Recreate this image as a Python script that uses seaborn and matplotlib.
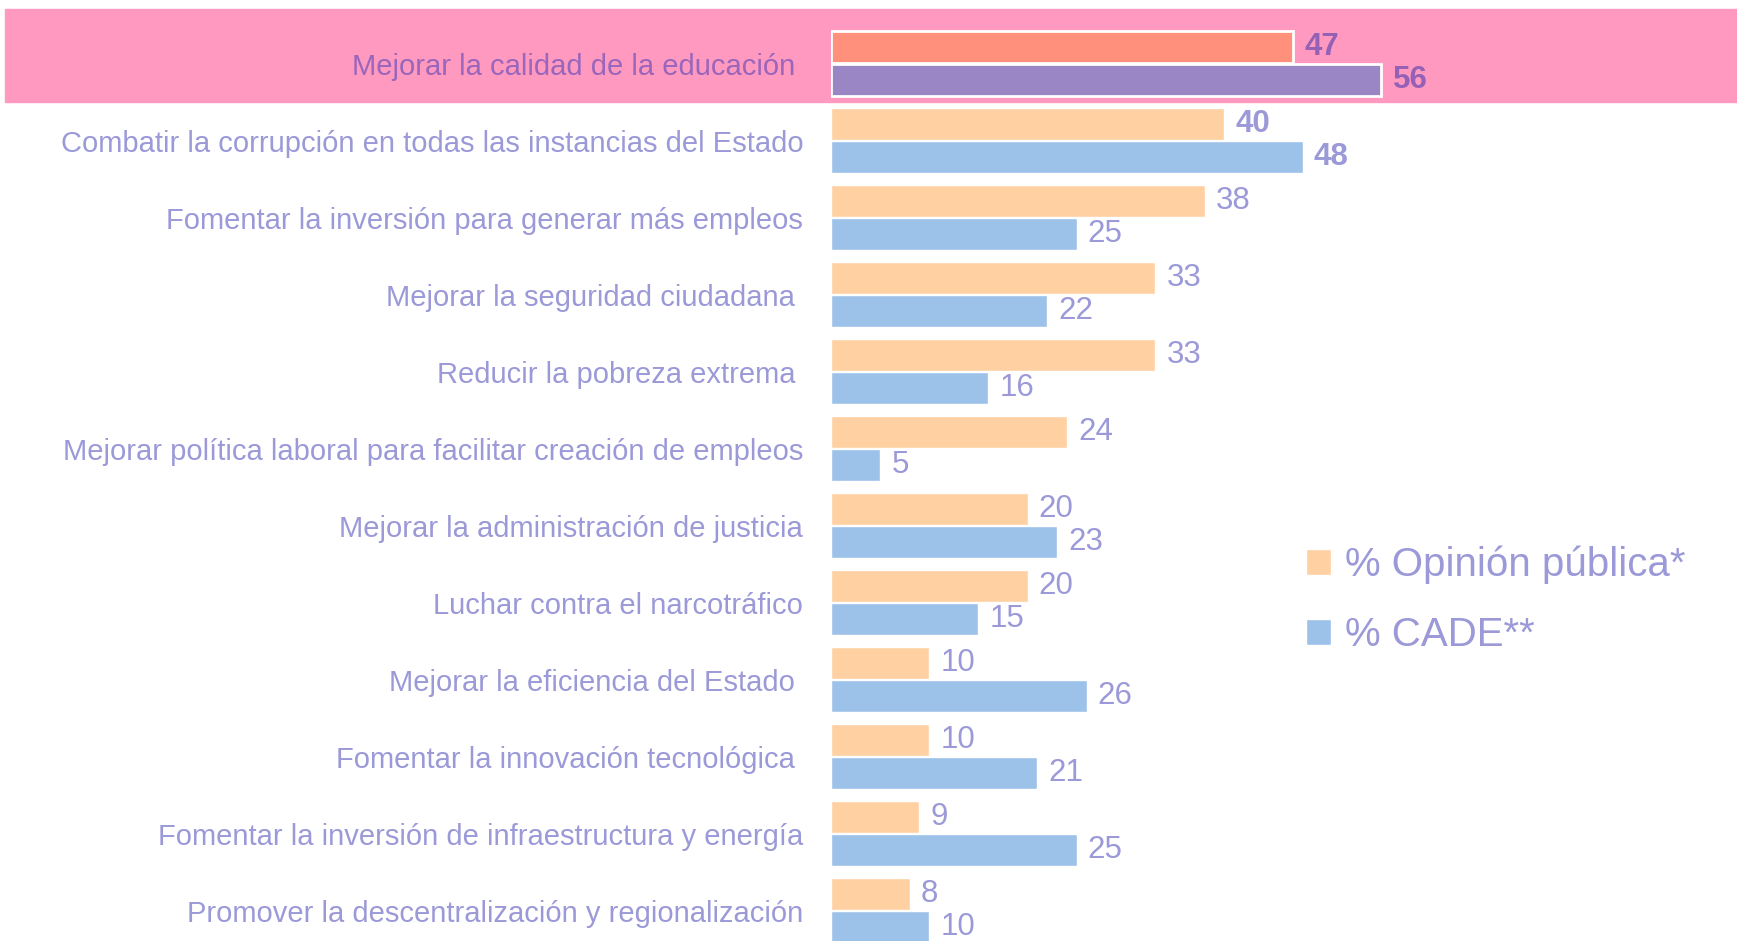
import matplotlib
matplotlib.use("Agg")
import matplotlib.pyplot as plt
import seaborn as sns
import pandas as pd
from matplotlib.patches import Patch

# Data
objetivos = [
    "Mejorar la calidad de la educación ",
    "Combatir la corrupción en todas las instancias del Estado",
    "Fomentar la inversión para generar más empleos",
    "Mejorar la seguridad ciudadana ",
    "Reducir la pobreza extrema ",
    "Mejorar política laboral para facilitar creación de empleos",
    "Mejorar la administración de justicia",
    "Luchar contra el narcotráfico",
    "Mejorar la eficiencia del Estado ",
    "Fomentar la innovación tecnológica ",
    "Fomentar la inversión de infraestructura y energía",
    "Promover la descentralización y regionalización",
]
opinion_publica = [47, 40, 38, 33, 33, 24, 20, 20, 10, 10, 9, 8]
cade = [56, 48, 25, 22, 16, 5, 23, 15, 26, 21, 25, 10]
series = ["% Opinión pública*", "% CADE**"]

df = pd.DataFrame({
    "objetivo": objetivos * 2,
    "valor": opinion_publica + cade,
    "serie": [series[0]] * len(objetivos) + [series[1]] * len(objetivos),
})

naranja = "#FFD0A1"
azul = "#9DC2EA"
texto = "#9B99D8"

sns.set_style("white")
plt.rcParams["font.family"] = ["Liberation Sans", "DejaVu Sans"]

fig = plt.figure(figsize=(17.37, 9.41), dpi=100)
ax = fig.add_axes([831 / 1737, 0, 1 - 831 / 1737, 1])

sns.barplot(data=df, x="valor", y="objetivo", hue="serie", orient="h",
            palette=[naranja, azul], saturation=1, width=0.86, gap=0.05,
            edgecolor="white", linewidth=1, legend=False, ax=ax)

# highlight band for the first row
ax.axhspan(-0.708, 0.5, xmin=(5 - 831) / 906, xmax=1, color="#FF99C0",
           clip_on=False, zorder=0)

# highlighted bars
top_o = ax.containers[0][0]
top_c = ax.containers[1][0]
top_o.set_facecolor("#FF917C")
top_c.set_facecolor("#9A85C5")
for b in (top_o, top_c):
    b.set_edgecolor("white")
    b.set_linewidth(2)
    b.set_zorder(3)

for i, cont in enumerate(ax.containers):
    labels = ax.bar_label(cont, padding=8, fontsize=22.5, color=texto)
    labels[0].set_color("#9461B6")
    labels[0].set_fontweight("bold")
    labels[1].set_fontweight("bold")

ax.set_xlim(0, 906 / 9.83)
ax.set_ylim(11.396, -0.825)
ax.set_xlabel("")
ax.set_ylabel("")
ax.set_xticks([])
ax.tick_params(axis="y", length=0, pad=20, labelsize=21, labelcolor=texto)
ax.get_yticklabels()[0].set_color("#9966BB")
for s in ax.spines.values():
    s.set_visible(False)
ax.patch.set_alpha(0)

handles = [Patch(facecolor=naranja), Patch(facecolor=azul)]
fig.legend(handles, series, loc="center left",
           bbox_to_anchor=(1306 / 1737, 1 - 600 / 941),
           frameon=False, fontsize=29, labelcolor=texto,
           handlelength=0.62, handleheight=0.62, handletextpad=0.35,
           labelspacing=0.8, borderpad=0, borderaxespad=0)

fig.savefig("out.png", dpi=100)
